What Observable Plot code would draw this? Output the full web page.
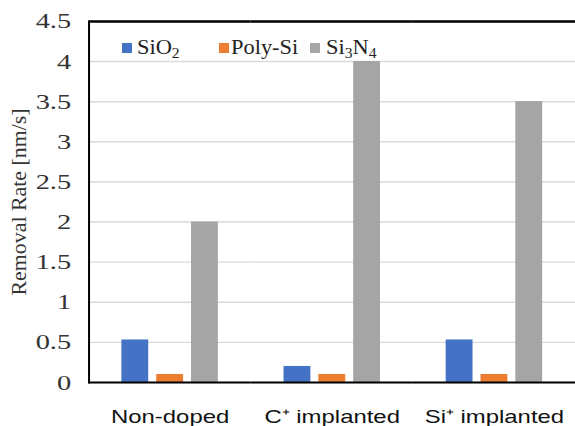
<!DOCTYPE html>
<html>
<head>
<meta charset="utf-8">
<script src="https://cdn.jsdelivr.net/npm/d3@7"></script>
<script src="https://cdn.jsdelivr.net/npm/@observablehq/plot@0.6"></script>
<style>
  html, body { margin: 0; padding: 0; background: #fff; overflow: hidden; }
  #wrap { position: relative; width: 575px; height: 426px; overflow: hidden; }
  #chart svg { display: block; }
  #chart g[aria-label="y-axis tick label"] { font-family: "Liberation Sans", Arial, sans-serif; font-size: 18px; fill: #222; }
  .leg { position: absolute; font-family: "Liberation Serif", "Times New Roman", serif; font-size: 20px; line-height: 1; color: #222; white-space: nowrap; }
  .leg .sw { position: absolute; width: 10px; height: 10px; }
  .leg .lab { position: absolute; transform-origin: left center; transform: scaleX(1.12); }
  .leg sub { font-size: 70%; vertical-align: -0.28em; line-height: 0; }
</style>
</head>
<body>
<div id="wrap">
  <div id="chart"></div>
  <div id="legend"></div>
</div>
<script>
// ---- data ----
const categories = ["Non-doped", "C\u207A implanted", "Si\u207A implanted"];
const series = ["SiO2", "Poly-Si", "Si3N4"];
const seriesLabels = ["SiO<sub>2</sub>", "Poly-Si", "Si<sub>3</sub>N<sub>4</sub>"];
const sio2 = [0.53, 0.2, 0.53];
const polySi = [0.1, 0.1, 0.1];
const si3n4 = [2.0, 4.0, 3.5];
const colors = ["#4472C4", "#ED7D31", "#A5A5A5"];
const yTicks = [0, 0.5, 1, 1.5, 2, 2.5, 3, 3.5, 4, 4.5];
const yLabel = "Removal Rate [nm/s]";

const valuesBySeries = [sio2, polySi, si3n4];
const table = categories.flatMap((c, i) =>
  series.map((s, j) => ({category: c, series: s, value: valuesBySeries[j][i]}))
);

const chart = Plot.plot({
  width: 578,
  height: 426,
  marginTop: 21,
  marginBottom: 42,
  marginLeft: 89,
  marginRight: 0,
  style: {fontFamily: "'Liberation Sans', Arial, sans-serif", background: "#fff", overflow: "visible"},
  fx: {domain: categories, padding: 0, label: null},
  x: {domain: series, paddingInner: 0.22, paddingOuter: 0.875, axis: null},
  y: {domain: [0, 4.5], label: null},
  color: {domain: series, range: colors},
  marks: [
    Plot.gridY(yTicks, {stroke: "#d9d9d9", strokeOpacity: 1, strokeWidth: 1.5}),
    Plot.axisY(yTicks, {tickSize: 0, tickPadding: 18, label: yLabel, labelArrow: "none", labelAnchor: "center", labelOffset: 79,
      tickFormat: d => String(d), fontFamily: "'Liberation Serif', 'Times New Roman', serif", fontSize: 22, fill: "#333"}),
    Plot.axisFx({anchor: "bottom", tickSize: 0, tickPadding: 28, fontSize: 18.5, label: null, fill: "#111"}),
    Plot.barY(table, {fx: "category", x: "series", y: "value", fill: "series"}),
    Plot.ruleY([0], {stroke: "#000", strokeWidth: 2}),
    Plot.ruleY([4.5], {stroke: "#000", strokeWidth: 2.5}),
    Plot.frame({anchor: "left", facet: "super", stroke: "#000", strokeWidth: 2})
  ]
});
document.getElementById("chart").appendChild(chart);

// widen sans-serif tick labels to match the reference's broad lettering
chart.querySelectorAll('g[aria-label="y-axis tick label"] text, g[aria-label="fx-axis tick label"] text')
  .forEach(el => {
    const w = el.getComputedTextLength();
    el.setAttribute("textLength", (w * 1.3).toFixed(1));
    el.setAttribute("lengthAdjust", "spacingAndGlyphs");
  });

// legend (inside plot area, top-left)
const legendPos = [[121.5, 137], [219, 231], [310, 326]];
const leg = document.getElementById("legend");
series.forEach((s, i) => {
  const item = document.createElement("div");
  item.className = "leg";
  item.style.left = "0px"; item.style.top = "0px";
  const sw = document.createElement("div");
  sw.className = "sw";
  sw.style.background = colors[i];
  sw.style.left = legendPos[i][0] + "px";
  sw.style.top = "43px";
  const lab = document.createElement("div");
  lab.className = "lab";
  lab.style.left = legendPos[i][1] + "px";
  lab.style.top = "36.5px";
  lab.innerHTML = seriesLabels[i];
  item.appendChild(sw); item.appendChild(lab);
  leg.appendChild(item);
});
</script>
</body>
</html>
